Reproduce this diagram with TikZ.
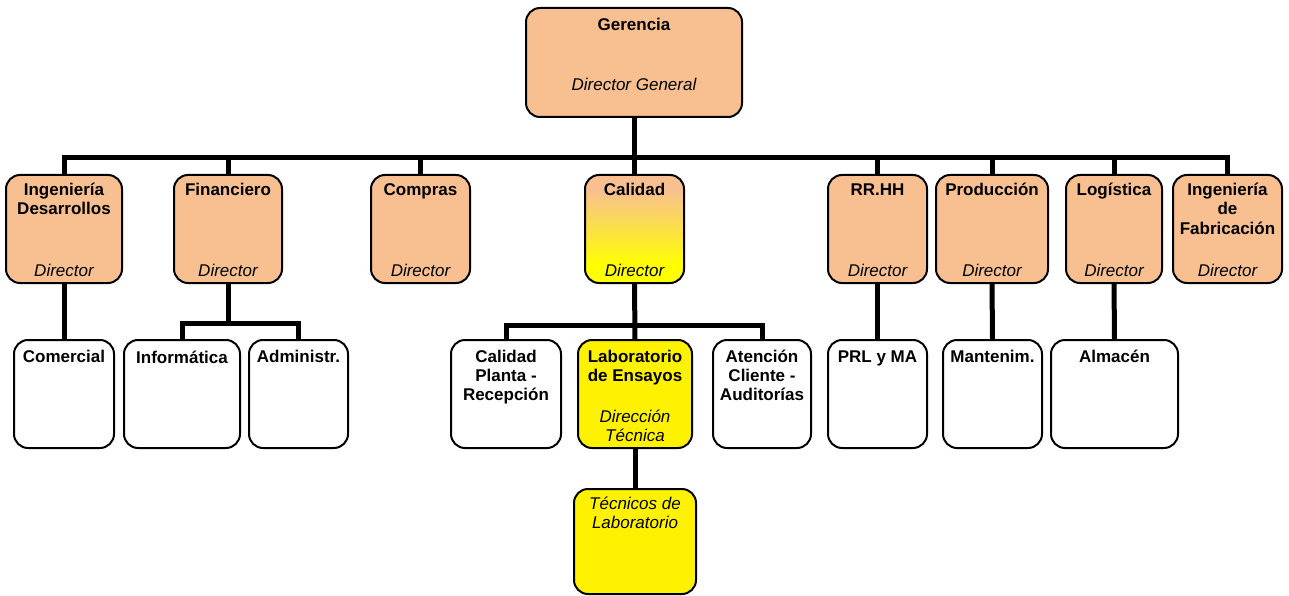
\documentclass[tikz,border=0pt]{standalone}
\usepackage{fontspec}
\setmainfont{Liberation Sans}
\usetikzlibrary{backgrounds}
\definecolor{peach}{HTML}{F8C090}
\pgfdeclareverticalshading{calshade}{100bp}{color(0bp)=(yellow); color(33bp)=(yellow); color(68bp)=(peach); color(100bp)=(peach)}
\newcommand\ml[1]{\begin{tabular}[t]{@{}c@{}}#1\end{tabular}}
\begin{document}
\begin{tikzpicture}[x=1pt,y=-1pt,
 box/.style={draw, line width=2pt, rounded corners=14pt, inner sep=0pt, outer sep=0pt},
 obox/.style={box, fill=peach},
 wbox/.style={box, fill=white},
 ybox/.style={box, fill=yellow},
 gbox/.style={box, shade, shading=calshade},
 conn/.style={line width=5pt, line join=miter},
 ti/.style={font=\fontsize{17}{19}\selectfont\bfseries, inner sep=0pt, anchor=base},
 di/.style={font=\fontsize{17}{19}\selectfont\itshape, inner sep=0pt, anchor=base}]
\useasboundingbox (0,0) rectangle (1289,596);
% top
\node[obox, minimum width=216pt, minimum height=109pt] (ger) at (634,62.5) {};
% row 2
\node[obox, minimum width=116pt, minimum height=108pt] (id) at (64,229) {};
\node[obox, minimum width=108pt, minimum height=108pt] (fin) at (228,229) {};
\node[obox, minimum width=99pt, minimum height=108pt] (comp) at (420.5,229) {};
\node[gbox, minimum width=99pt, minimum height=108pt] (cal) at (634.5,229) {};
\node[obox, minimum width=99pt, minimum height=108pt] (rrhh) at (877.5,229) {};
\node[obox, minimum width=112pt, minimum height=108pt] (prod) at (992,229) {};
\node[obox, minimum width=96pt, minimum height=108pt] (log) at (1114,229) {};
\node[obox, minimum width=109pt, minimum height=108pt] (ifab) at (1227.5,229) {};
% row 3
\node[wbox, minimum width=100pt, minimum height=108pt] (comer) at (64,394) {};
\node[wbox, minimum width=116pt, minimum height=108pt] (inf) at (182,394) {};
\node[wbox, minimum width=99pt, minimum height=108pt] (adm) at (298.5,394) {};
\node[wbox, minimum width=110pt, minimum height=108pt] (cpr) at (506,394) {};
\node[ybox, minimum width=114pt, minimum height=108pt] (lab) at (635,394) {};
\node[wbox, minimum width=98pt, minimum height=108pt] (acl) at (762,394) {};
\node[wbox, minimum width=99pt, minimum height=108pt] (prl) at (877.5,394) {};
\node[wbox, minimum width=99pt, minimum height=108pt] (man) at (992.5,394) {};
\node[wbox, minimum width=127pt, minimum height=108pt] (alm) at (1114.5,394) {};
% row 4
\node[ybox, minimum width=122pt, minimum height=105pt] (tec) at (635,541.5) {};
% texts
\node[ti] (gerT) at (634,31) {Gerencia};
\node[di] (gerD) at (634,91) {Director General};
\node[ti] (idT) at (64,196) {\ml{Ingeniería\\Desarrollos}};
\node[di] (idD) at (64,276) {Director};
\node[ti] (finT) at (228,196) {Financiero};
\node[di] (finD) at (228,276) {Director};
\node[ti] (compT) at (420.5,196) {Compras};
\node[di] (compD) at (420.5,276) {Director};
\node[ti] (calT) at (634.5,196) {Calidad};
\node[di] (calD) at (634.5,276) {Director};
\node[ti] (rrhhT) at (877.5,196) {RR.HH};
\node[di] (rrhhD) at (877.5,276) {Director};
\node[ti] (prodT) at (992,196) {Producción};
\node[di] (prodD) at (992,276) {Director};
\node[ti] (logT) at (1114,196) {Logística};
\node[di] (logD) at (1114,276) {Director};
\node[ti] (ifabT) at (1227.5,196) {\ml{Ingeniería\\de\\Fabricación}};
\node[di] (ifabD) at (1227.5,276) {Director};
\node[ti] (comerT) at (64,362) {Comercial};
\node[ti] (infT) at (182,363) {Informática};
\node[ti] (admT) at (298.5,362) {Administr.};
\node[ti] (cprT) at (506,362) {\ml{Calidad\\Planta -\\Recepción}};
\node[ti] (labT) at (635,362) {\ml{Laboratorio\\de Ensayos}};
\node[di] (labD) at (635,422) {\ml{Dirección\\Técnica}};
\node[ti] (aclT) at (762,362) {\ml{Atención\\Cliente -\\Auditorías}};
\node[ti] (prlT) at (877.5,362) {PRL y MA};
\node[ti] (manT) at (992.5,362) {Mantenim.};
\node[ti] (almT) at (1114.5,362) {Almacén};
\node[di] (tecT) at (635,509) {\ml{Técnicos de\\Laboratorio}};
% connectors
\begin{scope}[on background layer]
\coordinate (bus) at (0,158);
\coordinate (fbus) at (0,323);
\coordinate (cbus) at (0,325);
\draw[conn] (ger.south) -- (ger.south |- bus);
\draw[conn] (id.north) -- (id.north |- bus) -- (ifab.north |- bus) -- (ifab.north);
\foreach \n in {fin,comp,cal,rrhh,prod,log}
  \draw[conn] (\n.north) -- (\n.north |- bus);
\draw[conn] (id.south) -- (comer.north);
\draw[conn] (fin.south) -- (fin.south |- fbus);
\draw[conn] (inf.north) -- (inf.north |- fbus) -- (adm.north |- fbus) -- (adm.north);
\draw[conn] (cal.south) -- (lab.north);
\draw[conn] (cpr.north) -- (cpr.north |- cbus) -- (acl.north |- cbus) -- (acl.north);
\draw[conn] (rrhh.south) -- (prl.north);
\draw[conn] (prod.south) -- (man.north);
\draw[conn] (log.south) -- (alm.north);
\draw[conn] (lab.south) -- (tec.north);
\end{scope}
\end{tikzpicture}
\end{document}
